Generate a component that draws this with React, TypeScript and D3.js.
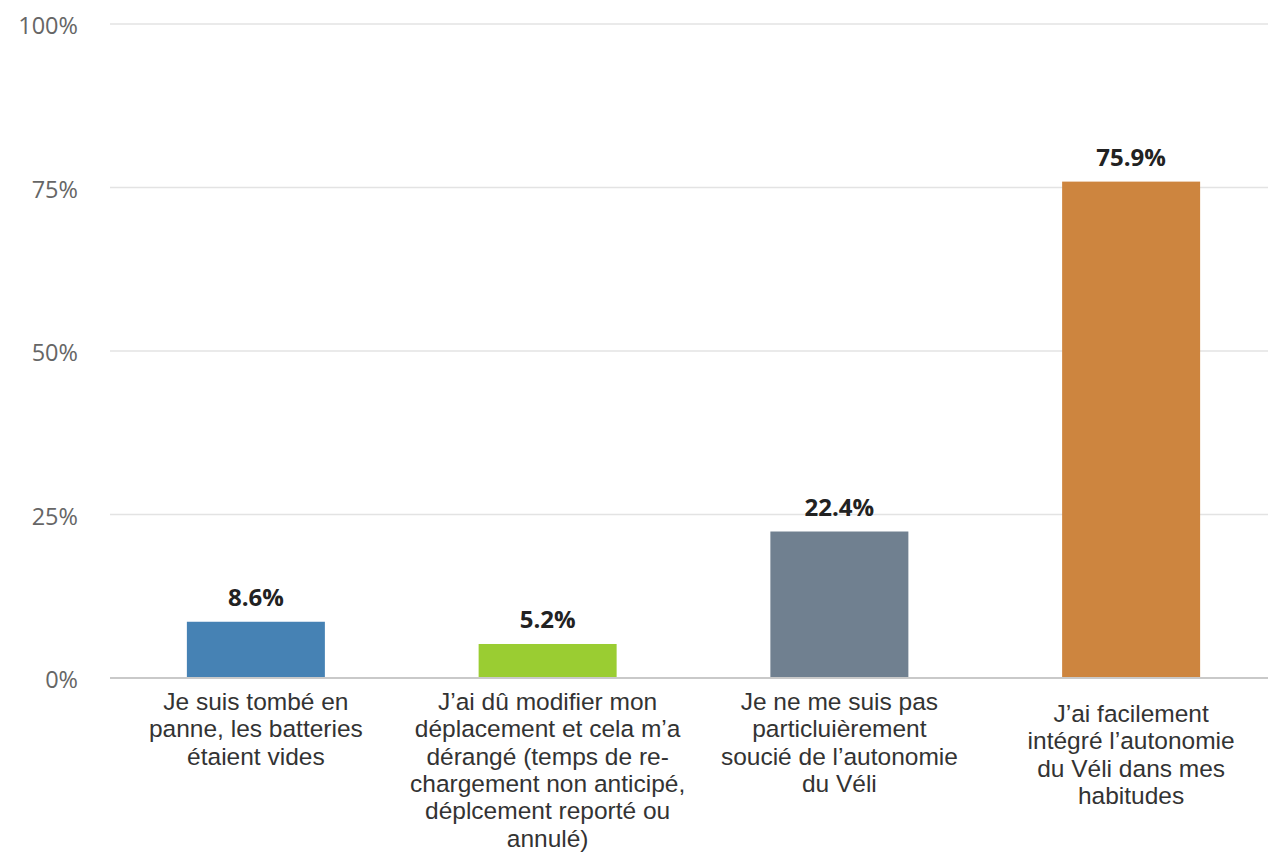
import React from "react";
import * as d3 from "d3";

const categories: string[][] = [
  ["Je suis tombé en", "panne, les batteries", "étaient vides"],
  [
    "J’ai dû modifier mon",
    "déplacement et cela m’a",
    "dérangé (temps de re-",
    "chargement non anticipé,",
    "déplcement reporté ou",
    "annulé)",
  ],
  ["Je ne me suis pas", "particluièrement", "soucié de l’autonomie", "du Véli"],
  ["J’ai facilement", "intégré l’autonomie", "du Véli dans mes", "habitudes"],
];
const values: number[] = [8.6, 5.2, 22.4, 75.9];
const valueLabels: string[] = ["8.6%", "5.2%", "22.4%", "75.9%"];
const colors: string[] = ["steelblue", "yellowgreen", "slategray", "peru"];
const yTicks: number[] = [0, 25, 50, 75, 100];

const W = 1268;
const H = 856;

export default function App() {
  const x = d3
    .scaleBand<number>()
    .domain(values.map((_, i) => i))
    .range([110, 1277])
    .paddingInner(0.527)
    .paddingOuter(0.2635);
  const y = d3.scaleLinear().domain([0, 100]).range([678, 24]);

  const labelOffsets = [0, 0, 0, 12];

  return (
    <div style={{ position: "absolute", left: 0, top: 0 }}>
      <svg width={W} height={H} style={{ display: "block", background: "#fff" }}>
        {yTicks.map((t) => (
          <g key={t}>
            {t !== 0 && (
              <line x1={110} x2={W} y1={y(t)} y2={y(t)} stroke="#e3e3e3" strokeWidth={1.5} />
            )}
            <text
              x={78}
              y={y(t) + 2}
              dy="0.36em"
              textAnchor="end"
              fontFamily="'Open Sans', sans-serif"
              fontSize={23.5}
              fill="#666"
            >
              {t}%
            </text>
          </g>
        ))}
        {values.map((v, i) => (
          <rect
            key={i}
            x={x(i)!}
            y={y(v)}
            width={x.bandwidth()}
            height={y(0) - y(v)}
            fill={colors[i]}
          />
        ))}
        <line x1={110} x2={W} y1={y(0)} y2={y(0)} stroke="#c9c9c9" strokeWidth={2} />
        {values.map((v, i) => (
          <text
            key={"v" + i}
            x={x(i)! + x.bandwidth() / 2}
            y={y(v) - 16}
            textAnchor="middle"
            fontFamily="'Open Sans', sans-serif"
            fontWeight="bold"
            fontSize={24}
            fill="#222"
          >
            {valueLabels[i]}
          </text>
        ))}
        {categories.map((lines, i) => (
          <text
            key={"c" + i}
            x={x(i)! + x.bandwidth() / 2}
            y={710 + labelOffsets[i]}
            textAnchor="middle"
            fontFamily="'Liberation Sans', Arial, sans-serif"
            fontSize={24.5}
            fill="#333"
          >
            {lines.map((l, j) => (
              <tspan key={j} x={x(i)! + x.bandwidth() / 2} dy={j === 0 ? 0 : 27.3}>
                {l}
              </tspan>
            ))}
          </text>
        ))}
      </svg>
    </div>
  );
}
